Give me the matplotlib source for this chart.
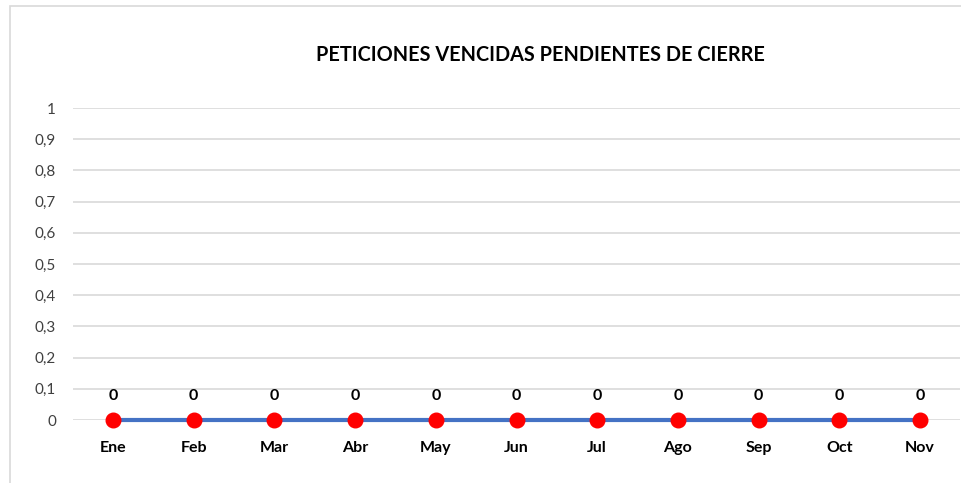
import matplotlib.pyplot as plt
from matplotlib.patches import Rectangle
from matplotlib.ticker import FuncFormatter, MultipleLocator

# Datos
meses = ['Ene', 'Feb', 'Mar', 'Abr', 'May', 'Jun', 'Jul', 'Ago', 'Sep', 'Oct', 'Nov']
peticiones = [0, 0, 0, 0, 0, 0, 0, 0, 0, 0, 0]
titulo = 'PETICIONES VENCIDAS PENDIENTES DE CIERRE'

plt.rcParams['font.family'] = ['Lato', 'DejaVu Sans']


def formato_coma(v, pos):
    s = f'{v:.1f}'.replace('.', ',')
    return s[:-2] if s.endswith(',0') else s


fig = plt.figure(figsize=(9.61, 4.83), dpi=100)
ax = fig.add_axes([72.6 / 961, 1 - 420 / 483, (960.4 - 72.6) / 961, (420 - 108) / 483])

# borde del área del gráfico
fig.patches.append(Rectangle((10 / 961, -0.1), 1.2, 1 - 6 / 483 + 0.1,
                             transform=fig.transFigure, fill=False,
                             edgecolor='#D9D9D9', linewidth=1.2, zorder=0))

x = list(range(len(meses)))
ax.plot(x, peticiones, color='#4472C4', linewidth=3, zorder=3,
        marker='o', markersize=10.5, markerfacecolor='#FF0000',
        markeredgecolor='#FF0000', clip_on=False)

for xi, v in zip(x, peticiones):
    ax.annotate(f'{v}', (xi, v), xytext=(0, 17), textcoords='offset points',
                ha='center', va='center', fontsize=11.5, fontweight='bold',
                color='#000000')

ax.set_xlim(-0.5, len(meses) - 0.5)
ax.set_ylim(0, 1)
ax.yaxis.set_major_locator(MultipleLocator(0.1))
ax.yaxis.set_major_formatter(FuncFormatter(formato_coma))
ax.set_xticks(x)
ax.set_xticklabels(meses, fontsize=11.5, fontweight='bold')
ax.tick_params(axis='x', length=0, pad=15)
ax.tick_params(axis='y', length=0, pad=12, labelsize=11, labelcolor='#404040')

ax.grid(axis='y', color='#D9D9D9', linewidth=1.2)
ax.set_axisbelow(True)
for s in ax.spines.values():
    s.set_visible(False)

fig.text(540 / 961, 1 - 55 / 483, titulo, ha='center', va='center',
         fontsize=14.3, fontweight='bold')

fig.savefig('out.png', dpi=100)
